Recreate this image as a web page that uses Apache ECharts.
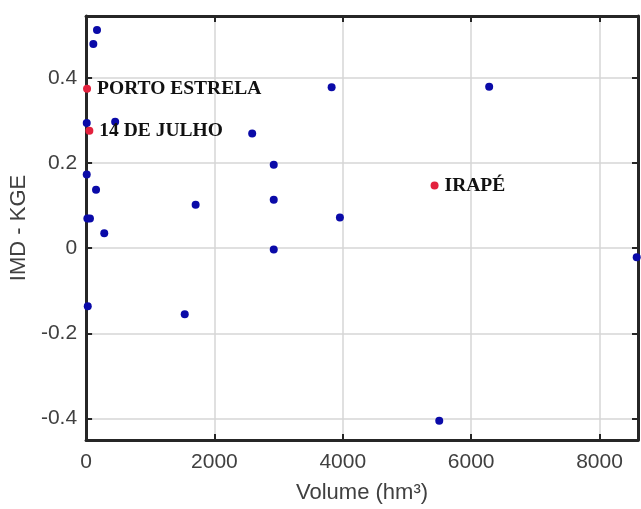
<!DOCTYPE html>
<html>
<head>
<meta charset="utf-8">
<script src="https://cdn.jsdelivr.net/npm/echarts@6/dist/echarts.min.js"></script>
<style>
  html, body { margin: 0; padding: 0; background: #fff; }
</style>
</head>
<body>
<div id="myChart" style="width: 641px; height: 509px;"></div>
<script>
// reservatorios (volume hm3, IMD - KGE)
var volumeBlue = [170, 113, 10, 453, 2588, 2924, 10, 155, 1707, 2924, 20, 60, 283, 2924, 26, 1537, 3826, 6281, 3955, 8580, 5503]
var kgeBlue = [0.512, 0.479, 0.294, 0.297, 0.269, 0.196, 0.173, 0.137, 0.102, 0.114, 0.07, 0.07, 0.035, -0.003, -0.136, -0.155, 0.378, 0.379, 0.072, -0.021, -0.405]

// destacados em vermelho
var namesRed = ['PORTO ESTRELA', '14 DE JULHO', 'IRAPÉ']
var volumeRed = [15, 51, 5430]
var kgeRed = [0.374, 0.276, 0.147]

var axisColor = '#262626'
var gridColor = '#d6d6d6'
var labelFont = 'Liberation Sans'

function pairs (xs, ys) {
  return xs.map(function (x, i) { return [x, ys[i]] })
}

var redData = volumeRed.map(function (v, i) {
  return { name: namesRed[i], value: [v, kgeRed[i]] }
})

function xAxisBase (pos) {
  return {
    type: 'value',
    position: pos,
    min: 0,
    max: 8600,
    interval: 2000,
    axisLine: { show: true, onZero: false, lineStyle: { color: axisColor, width: 3 } },
    axisTick: { show: true, inside: true, length: 6, lineStyle: { color: axisColor, width: 2 } },
    splitLine: { show: pos === 'bottom', lineStyle: { color: gridColor, width: 1.5 } }
  }
}

function yAxisBase (pos) {
  return {
    type: 'value',
    position: pos,
    min: -0.45,
    max: 0.545,
    minInterval: 0.2,
    maxInterval: 0.2,
    axisLine: { show: true, onZero: false, lineStyle: { color: axisColor, width: 3 } },
    axisTick: { show: true, inside: true, length: 6, lineStyle: { color: axisColor, width: 2 } },
    splitLine: { show: pos === 'left', lineStyle: { color: gridColor, width: 1.5 } }
  }
}

var xBottom = xAxisBase('bottom')
xBottom.name = 'Volume (hm³)'
xBottom.nameLocation = 'middle'
xBottom.nameGap = 42
xBottom.nameTextStyle = { fontFamily: labelFont, fontSize: 22, color: '#404040' }
xBottom.axisLabel = {
  show: true, margin: 12,
  fontFamily: labelFont, fontSize: 21, color: '#404040',
  formatter: function (v) { return v % 2000 === 0 ? String(v) : '' }
}
var xTop = xAxisBase('top')
xTop.axisLabel = { show: false }

var yLeft = yAxisBase('left')
yLeft.name = 'IMD - KGE'
yLeft.nameLocation = 'middle'
yLeft.nameGap = 53
yLeft.nameTextStyle = { fontFamily: labelFont, fontSize: 22, color: '#404040' }
yLeft.axisLabel = {
  show: true, margin: 9, showMinLabel: false, showMaxLabel: false,
  fontFamily: labelFont, fontSize: 21, color: '#404040'
}
var yRight = yAxisBase('right')
yRight.axisLabel = { show: false }

var option = {
  animation: false,
  backgroundColor: '#fff',
  grid: { left: 85, top: 16, right: 0, bottom: 62 },
  xAxis: [xBottom, xTop],
  yAxis: [yLeft, yRight],
  series: [
    {
      type: 'scatter',
      symbolSize: 8,
      itemStyle: { color: '#0a0aa8', opacity: 1 },
      data: pairs(volumeBlue, kgeBlue)
    },
    {
      type: 'scatter',
      symbolSize: 8,
      itemStyle: { color: '#e3213d', opacity: 1 },
      label: {
        show: true,
        position: 'right',
        distance: 6,
        formatter: '{b}',
        fontFamily: 'Liberation Serif',
        fontWeight: 'bold',
        fontSize: 19.5,
        color: '#111'
      },
      data: redData
    }
  ]
}

var myChart = echarts.init(document.getElementById('myChart'))
myChart.setOption(option)
</script>
</body>
</html>
